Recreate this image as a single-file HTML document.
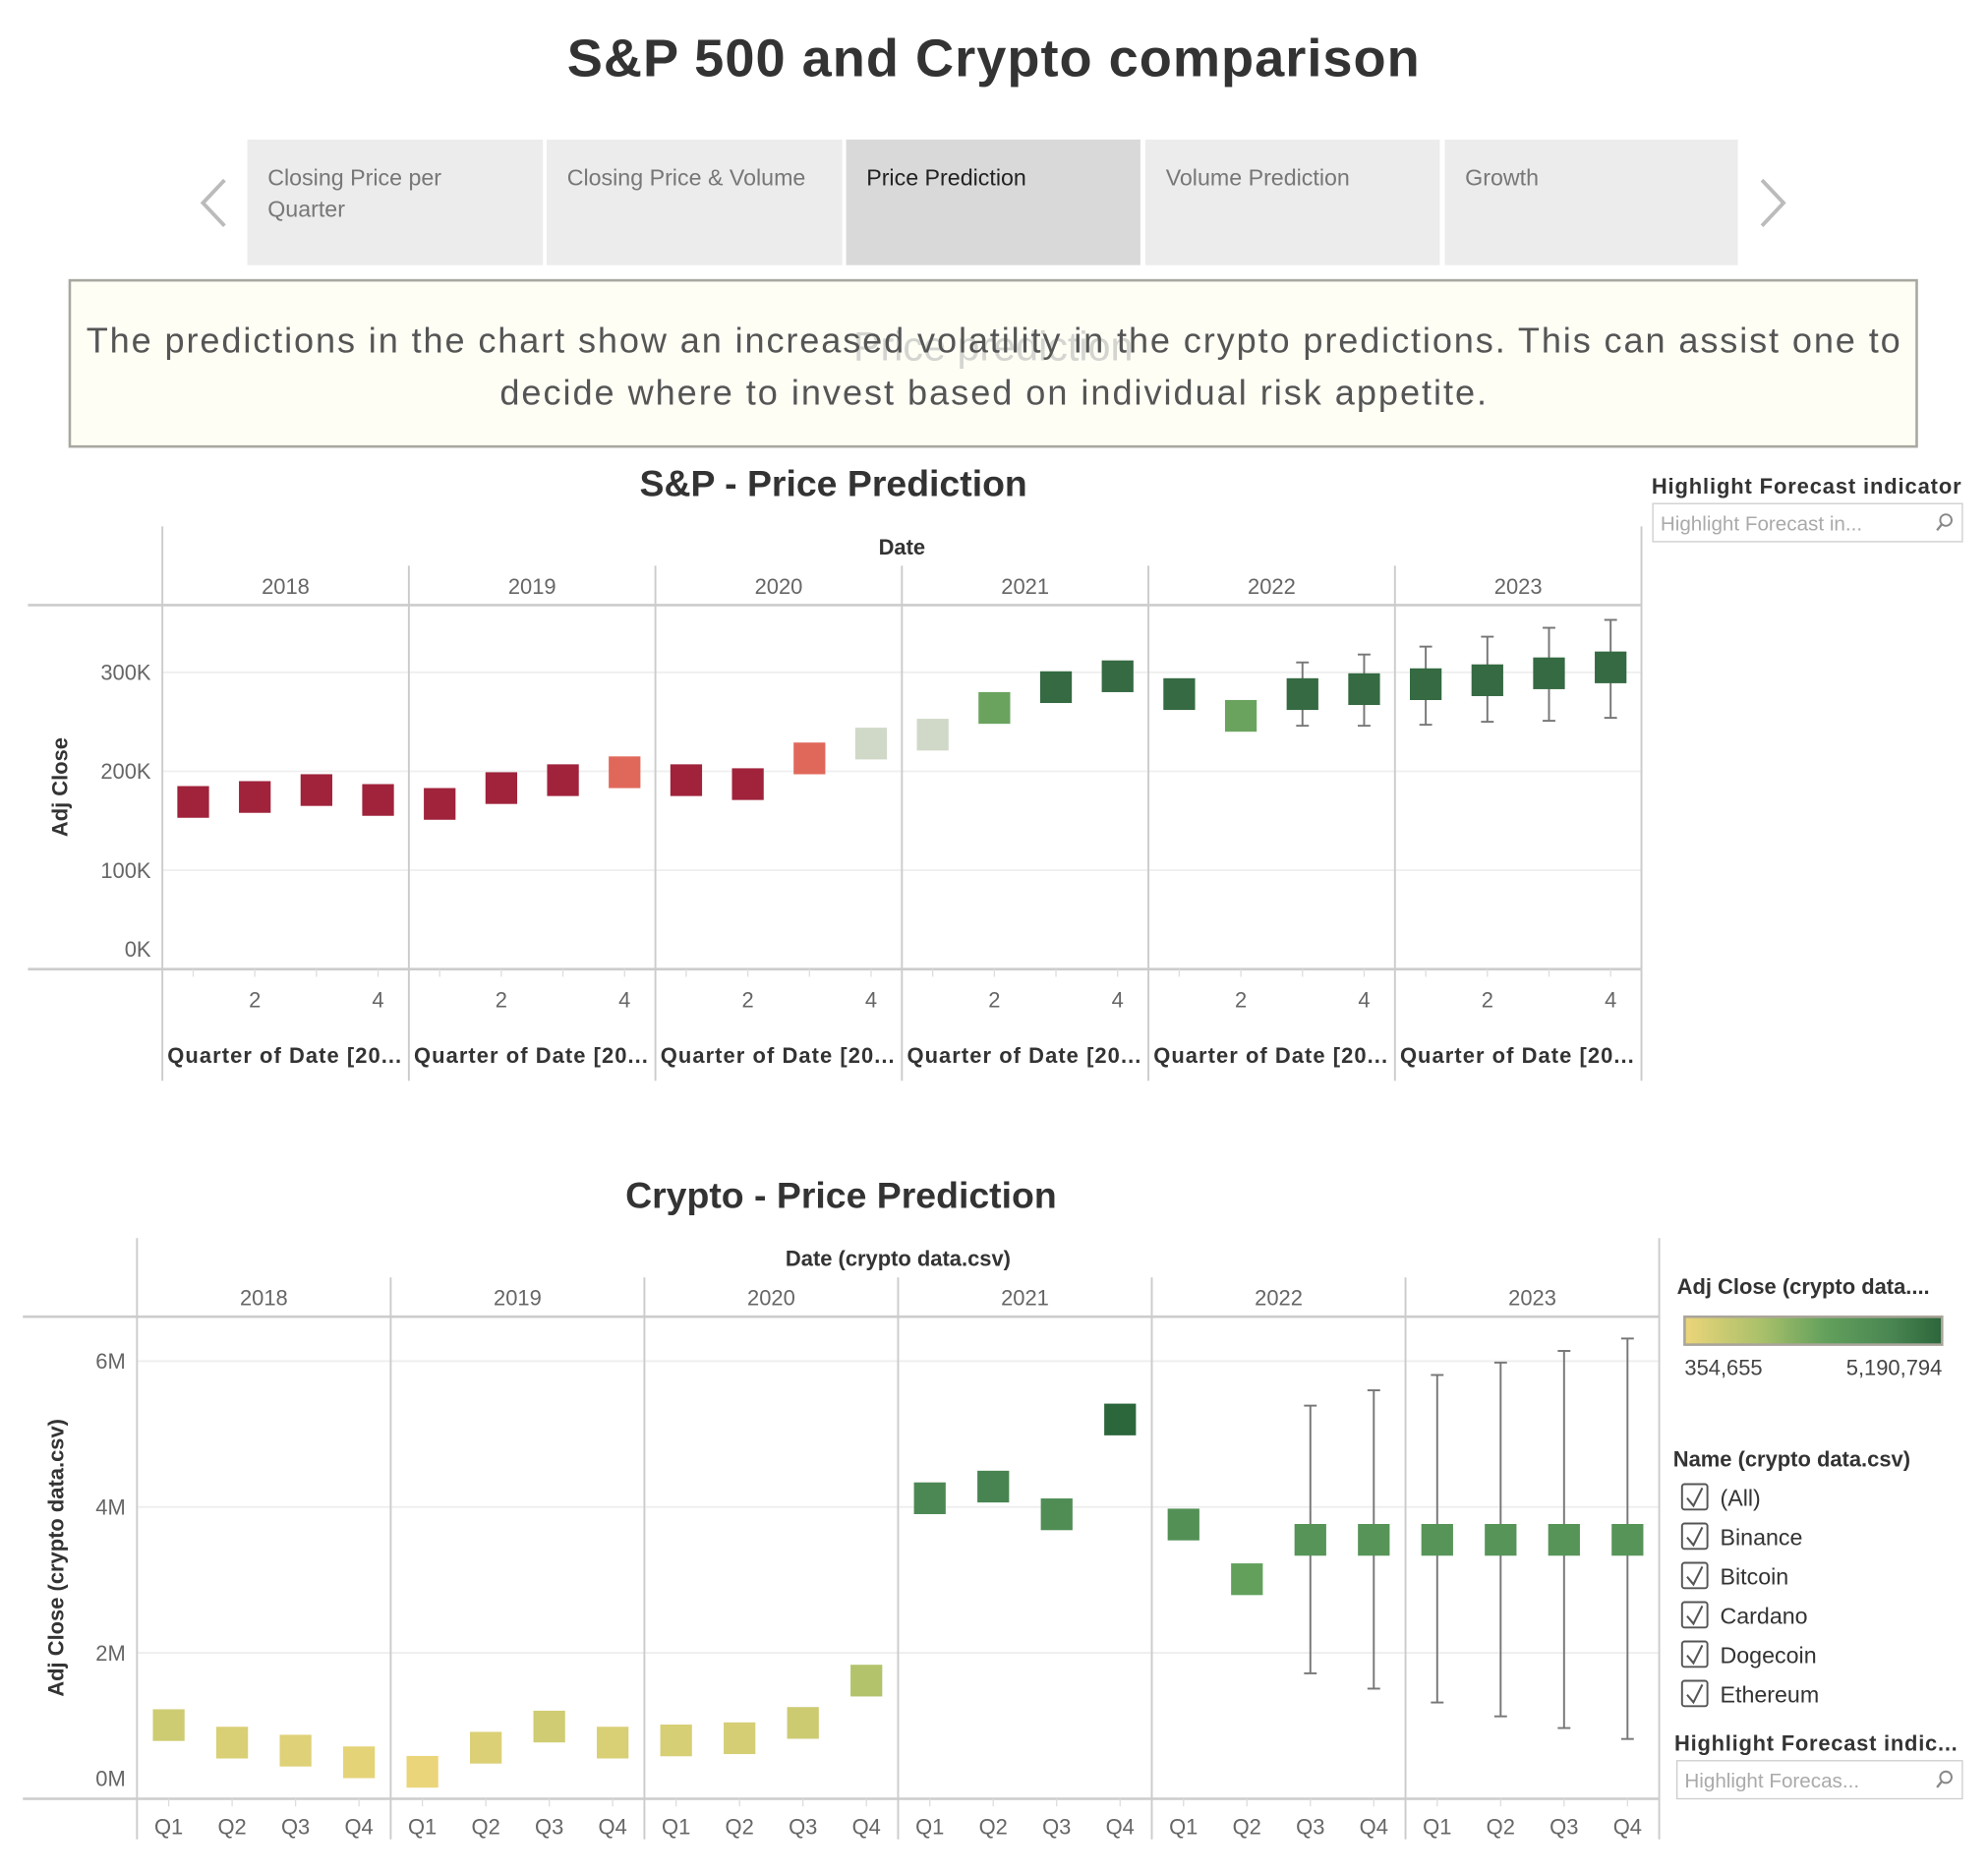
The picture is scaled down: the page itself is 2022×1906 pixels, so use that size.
<!DOCTYPE html>
<html><head><meta charset="utf-8"><style>
html,body{margin:0;padding:0;background:#fff;}
svg{display:block;font-family:"Liberation Sans",sans-serif;}
</style></head><body>
<svg id="root" width="2022" height="1906" viewBox="0 0 1567.2 1477.3" preserveAspectRatio="none" xmlns="http://www.w3.org/2000/svg">
<defs>
<linearGradient id="cg" x1="0" x2="1" y1="0" y2="0">
<stop offset="0" stop-color="#ecd57a"/><stop offset="0.3" stop-color="#a9c06a"/><stop offset="0.55" stop-color="#62a05c"/><stop offset="0.8" stop-color="#4a8652"/><stop offset="1" stop-color="#2c663b"/>
</linearGradient>
</defs>
<text x="783" y="60" text-anchor="middle" font-size="42" font-weight="bold" fill="#333" textLength="672">S&amp;P 500 and Crypto comparison</text>

<g>
<polyline points="177,142 160,160 177,178" fill="none" stroke="#bbb" stroke-width="3"/>
<polyline points="1389,142 1406,160 1389,178" fill="none" stroke="#bbb" stroke-width="3"/>
<g><rect x="195" y="110" width="233" height="99" fill="#ececec"/><text x="211" y="146" font-size="18" fill="#777">Closing Price per</text><text x="211" y="171" font-size="18" fill="#777">Quarter</text></g>
<g><rect x="431" y="110" width="233" height="99" fill="#ececec"/><text x="447" y="146" font-size="18" fill="#777">Closing Price &amp; Volume</text></g>
<g><rect x="667" y="110" width="232" height="99" fill="#d9d9d9"/><text x="683" y="146" font-size="18" fill="#222">Price Prediction</text></g>
<g><rect x="903" y="110" width="232" height="99" fill="#ececec"/><text x="919" y="146" font-size="18" fill="#777">Volume Prediction</text></g>
<g><rect x="1139" y="110" width="231" height="99" fill="#ececec"/><text x="1155" y="146" font-size="18" fill="#777">Growth</text></g>
</g>

<g>
<rect x="55" y="221" width="1456" height="131" fill="#fefef5" stroke="#a8a8a0" stroke-width="2"/>
<text x="783" y="284" text-anchor="middle" font-size="32" fill="#d4d4d0">Price prediction</text>
<text x="783" y="278" text-anchor="middle" font-size="28" fill="#555" textLength="1430">The predictions in the chart show an increased volatility in the crypto predictions. This can assist one to</text>
<text x="783" y="319" text-anchor="middle" font-size="28" fill="#555" textLength="778">decide where to invest based on individual risk appetite.</text>
</g>

<g id="spChart"></g>
<g id="crChart"></g>

<g>
<text x="1302" y="389" font-size="17" font-weight="bold" fill="#333" textLength="244">Highlight Forecast indicator</text>
<g>
<rect x="1303" y="397" width="244" height="30" fill="#fff" stroke="#ccc"/>
<text x="1309" y="418" font-size="16" fill="#aaa">Highlight Forecast in...</text>
<circle cx="1534" cy="410" r="4.5" fill="none" stroke="#888" stroke-width="1.5"/><line x1="1531" y1="413" x2="1527" y2="418" stroke="#888" stroke-width="1.8"/>
</g></g>

<g>
<text x="1322" y="1020" font-size="17" font-weight="bold" fill="#333">Adj Close (crypto data....</text>
<rect x="1328" y="1038" width="203" height="22" fill="url(#cg)" stroke="#aaa59a" stroke-width="2"/>
<text x="1328" y="1084" font-size="17" fill="#444">354,655</text>
<text x="1531" y="1084" font-size="17" fill="#444" text-anchor="end">5,190,794</text>
</g>
<g id="nameFilter">
<text x="1319" y="1156" font-size="17" font-weight="bold" fill="#333">Name (crypto data.csv)</text>
</g>
<g>
<text x="1320" y="1380" font-size="17" font-weight="bold" fill="#333" textLength="223">Highlight Forecast indic...</text>
<g>
<rect x="1322" y="1388" width="225" height="30" fill="#fff" stroke="#ccc"/>
<text x="1328" y="1409" font-size="16" fill="#aaa">Highlight Forecas...</text>
<circle cx="1534" cy="1401" r="4.5" fill="none" stroke="#888" stroke-width="1.5"/><line x1="1531" y1="1404" x2="1527" y2="1409" stroke="#888" stroke-width="1.8"/>
</g></g>
</svg>
<script>
// ---- S&P data ----
const spYears = ['2018','2019','2020','2021','2022','2023'];
const spValues = [169,174,181,171, 167,183,191,199, 191,187,213,228, 237,264,285,296, 278,256,278,283, 288,292,299,305];
const spTrend = ['r','r','r','r', 'r','r','r','o', 'r','r','o','l', 'l','g','d','d', 'd','g','d','d', 'd','d','d','d'];
const spUpper = [null,null,null,null,null,null,null,null,null,null,null,null,null,null,null,null,null,null,310,318,326,336,345,353];
const spLower = [null,null,null,null,null,null,null,null,null,null,null,null,null,null,null,null,null,null,246,246,247,250,251,254];
const spTicks = [0,100,200,300];
const spTickLabels = ['0K','100K','200K','300K'];
// ---- Crypto data (millions) ----
const crYears = ['2018','2019','2020','2021','2022','2023'];
const crValues = [1.01,0.77,0.66,0.50, 0.37,0.70,0.99,0.77, 0.80,0.83,1.04,1.62, 4.12,4.28,3.90,5.20, 3.76,3.01,3.55,3.55, 3.55,3.55,3.55,3.55];
const crUpper = [null,null,null,null,null,null,null,null,null,null,null,null,null,null,null,null,null,null,5.39,5.60,5.81,5.98,6.14,6.31];
const crLower = [null,null,null,null,null,null,null,null,null,null,null,null,null,null,null,null,null,null,1.72,1.51,1.32,1.13,0.97,0.82];
const crTicks = [0,2,4,6];
const crTickLabels = ['0M','2M','4M','6M'];
const crQuarterLabels = ['Q1','Q2','Q3','Q4'];
const names = ['(All)','Binance','Bitcoin','Cardano','Dogecoin','Ethereum'];

const NS='http://www.w3.org/2000/svg';
function mk(tag, attrs, parent, txt){const e=document.createElementNS(NS,tag);for(const k in attrs)e.setAttribute(k,attrs[k]);if(txt!==undefined)e.textContent=txt;parent.appendChild(e);return e;}

const trendColor={r:'#a0233b',o:'#e0685a',l:'#d0d9c7',g:'#6aa35e',d:'#356a42'};
function lerp(a,b,t){return Math.round(a+(b-a)*t);}
function hex(c){return [parseInt(c.slice(1,3),16),parseInt(c.slice(3,5),16),parseInt(c.slice(5,7),16)];}
const stops=[[0,'#ecd57a'],[0.3,'#a9c06a'],[0.55,'#62a05c'],[0.8,'#4a8652'],[1,'#2c663b']];
function crColor(v){let t=(v-0.354655)/(5.190794-0.354655);t=Math.max(0,Math.min(1,t));for(let i=1;i<stops.length;i++){if(t<=stops[i][0]){const a=hex(stops[i-1][1]),b=hex(stops[i][1]);const u=(t-stops[i-1][0])/(stops[i][0]-stops[i-1][0]);return 'rgb('+lerp(a[0],b[0],u)+','+lerp(a[1],b[1],u)+','+lerp(a[2],b[2],u)+')';}}return stops[4][1];}

function drawChart(g, cfg){
  const {left,right,top,headerTop,plotTop,plotBot,bottom,axisLeft,title,titleX,titleY,dateLabel,years,values,upper,lower,ticks,tickLabels,yScale,colorOf,yTitle,yTitleX,qLabel,quarterTicks,qLabelY,prefix}=cfg;
  const yw=(right-left)/years.length, qw=yw/4;
  const xScale=i=>left+Math.floor(i/4)*yw+qw*(i%4)+qw/2;
  let t=mk('text',{x:titleX,y:titleY,'text-anchor':'middle','font-size':29,'font-weight':'bold',fill:'#333'},g,title);
  
  
  ticks.forEach((v,k)=>{
    const y=yScale(v);
    if(k>0){const gl=mk('line',{x1:left,x2:right,y1:y,y2:y,stroke:'#efefef','stroke-width':1.5},g);
      
      }
    const ty=k===0?y-10:y+6;
    const tl=mk('text',{x:left-9,y:ty,'text-anchor':'end','font-size':17,fill:'#666'},g,tickLabels[k]);
    
    
  });
  mk('line',{x1:left,x2:left,y1:top,y2:bottom,stroke:'#ccc','stroke-width':1.5},g);
  mk('line',{x1:right,x2:right,y1:top,y2:bottom,stroke:'#ccc','stroke-width':1.5},g);
  mk('line',{x1:axisLeft,x2:right,y1:plotTop,y2:plotTop,stroke:'#ccc','stroke-width':2},g);
  mk('line',{x1:axisLeft,x2:right,y1:plotBot,y2:plotBot,stroke:'#ccc','stroke-width':2},g);
  const dl=mk('text',{x:(left+right)/2,y:top+22,'text-anchor':'middle','font-size':17,'font-weight':'bold',fill:'#333'},g,dateLabel);
  
  
  const yt=mk('text',{x:0,y:0,'text-anchor':'middle','font-size':17,'font-weight':'bold',fill:'#333',transform:'translate('+yTitleX+','+((plotTop+plotBot)/2)+') rotate(-90)'},g,yTitle);
  
  
  years.forEach((yr,j)=>{
    const x0=left+j*yw;
    if(j>0){mk('line',{x1:x0,x2:x0,y1:headerTop,y2:bottom,stroke:'#ccc','stroke-width':1.5},g);}
    const yl=mk('text',{x:x0+yw/2,y:headerTop+22,'text-anchor':'middle','font-size':17,fill:'#666'},g,yr);
    
    
    for(let q=0;q<4;q++){
      const cx=x0+qw*q+qw/2;
      mk('line',{x1:cx,x2:cx,y1:plotBot,y2:plotBot+6,stroke:'#ddd'},g);
      const lab=quarterTicks(q);
      if(lab){const ql=mk('text',{x:cx,y:qLabelY,'text-anchor':'middle','font-size':17,fill:'#666'},g,lab);
        
        }
    }
    if(qLabel){const qt=mk('text',{x:x0+4,y:qLabel.y,'font-size':17,'font-weight':'bold',fill:'#333',textLength:yw-10},g,qLabel.text);
      
      }
  });
  values.forEach((v,i)=>{
    const cx=xScale(i), cy=yScale(v);
    if(upper[i]!=null){
      const yu=yScale(upper[i]), yl=yScale(lower[i]);
      const eb=mk('g',{},g);
      
      
      mk('line',{x1:cx,x2:cx,y1:yu,y2:yl,stroke:'#777','stroke-width':1.5},eb);
      mk('line',{x1:cx-5,x2:cx+5,y1:yu,y2:yu,stroke:'#777','stroke-width':1.5},eb);
      mk('line',{x1:cx-5,x2:cx+5,y1:yl,y2:yl,stroke:'#777','stroke-width':1.5},eb);
    }
    const r=mk('rect',{x:cx-12.5,y:cy-12.5,width:25,height:25,fill:colorOf(i,v)},g);
    
    
  });
}

drawChart(document.getElementById('spChart'),{
  prefix:'sp',left:128,right:1294,top:415,headerTop:446,plotTop:477,plotBot:764,bottom:852,axisLeft:22,
  title:'S&P - Price Prediction',titleX:657,titleY:391,dateLabel:'Date',years:spYears,values:spValues,upper:spUpper,lower:spLower,
  ticks:spTicks,tickLabels:spTickLabels,yScale:v=>764-v*0.78,colorOf:(i)=>trendColor[spTrend[i]],
  yTitle:'Adj Close',yTitleX:53,qLabel:{text:'Quarter of Date [20...',y:838},quarterTicks:q=>q===1?'2':(q===3?'4':''),qLabelY:794
});
drawChart(document.getElementById('crChart'),{
  prefix:'crypto',left:108,right:1308,top:976,headerTop:1007,plotTop:1038,plotBot:1418,bottom:1450,axisLeft:18,
  title:'Crypto - Price Prediction',titleX:663,titleY:952,dateLabel:'Date (crypto data.csv)',years:crYears,values:crValues,upper:crUpper,lower:crLower,
  ticks:crTicks,tickLabels:crTickLabels,yScale:v=>1418-v*57.5,colorOf:(i,v)=>crColor(v),
  yTitle:'Adj Close (crypto data.csv)',yTitleX:50,qLabel:null,quarterTicks:q=>crQuarterLabels[q],qLabelY:1446
});

const nf=document.getElementById('nameFilter');
names.forEach((n,k)=>{
  const y=1180+k*31;
  const it=mk('g',{},nf);
  
  
  mk('rect',{x:1326,y:y-10,width:20,height:20,rx:2,fill:'#fff',stroke:'#555','stroke-width':1.5},it);
  mk('polyline',{points:(1330)+','+(y+1)+' '+(1335)+','+(y+7)+' '+(1342)+','+(y-7),fill:'none',stroke:'#555','stroke-width':1.6},it);
  mk('text',{x:1356,y:y+7,'font-size':18,fill:'#333'},it,n);
});
</script>
</body></html>
